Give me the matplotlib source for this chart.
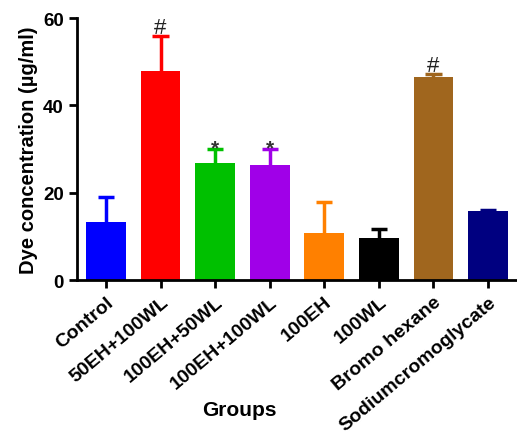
import matplotlib
matplotlib.use("Agg")
import matplotlib.pyplot as plt
import numpy as np

plt.rcParams['font.family'] = ['Liberation Sans', 'DejaVu Sans']
plt.rcParams['font.weight'] = 'bold'
plt.rcParams['axes.labelweight'] = 'bold'

grupos = ["Control", "50EH+100WL", "100EH+50WL", "100EH+100WL",
          "100EH", "100WL", "Bromo hexane", "Sodiumcromoglycate"]
medias = [13.3, 47.9, 26.8, 26.4, 10.7, 9.6, 46.5, 15.8]
errores = [5.7, 8.0, 3.2, 3.6, 7.2, 2.2, 0.8, 0.2]
marcas = ["", "#", "*", "*", "", "", "#", ""]
colores = ["#0000FF", "#FF0000", "#00C000", "#A000E8",
           "#FF8000", "#000000", "#A0661E", "#000080"]

fig = plt.figure(figsize=(5.17, 4.35), dpi=100)
ax = fig.add_axes([0.149, 0.354, 0.851, 0.602])

x = np.arange(len(grupos))
ax.bar(x, medias, width=0.73, color=colores, zorder=2)
# barras de error solo hacia arriba
for xi, m, e, c in zip(x, medias, errores, colores):
    ax.vlines(xi, m, m + e, color=c, linewidth=2.5, zorder=1)
    ax.hlines(m + e, xi - 0.15, xi + 0.15, color=c, linewidth=2.5, zorder=3)

# marcas de significancia
for xi, m, e, s in zip(x, medias, errores, marcas):
    if s == "#":
        ax.text(xi, m + e - 0.5, s, ha="center", va="bottom", fontsize=16,
                fontweight="normal", color="#222222")
    elif s == "*":
        ax.text(xi, m + e - 1.8, s, ha="center", va="bottom", fontsize=15,
                color="#333333")

ax.set_xlim(-0.53, 7.53)
ax.set_ylim(0, 60)
ax.set_yticks([0, 20, 40, 60])
ax.set_xticks(x)
ax.set_xticklabels(grupos, rotation=40, ha="right", rotation_mode="anchor",
                   fontsize=14)
ax.tick_params(axis="y", labelsize=13.5, width=2, length=6)
ax.tick_params(axis="x", width=2, length=6)
ax.spines["top"].set_visible(False)
ax.spines["right"].set_visible(False)
ax.spines["left"].set_linewidth(2)
ax.spines["bottom"].set_linewidth(2)

ax.set_ylabel("Dye concentration (µg/ml)", fontsize=14.5)
ax.set_xlabel("Groups", fontsize=15)
ax.xaxis.set_label_coords(0.37, -0.46)

fig.savefig("out.png", dpi=100)
